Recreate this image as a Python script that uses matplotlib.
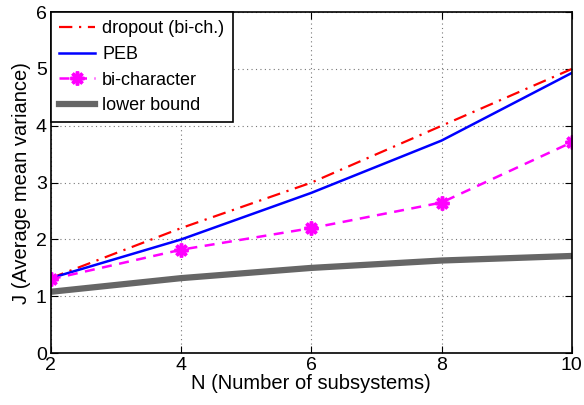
import matplotlib
matplotlib.use("Agg")
import matplotlib.pyplot as plt

N = [2, 4, 6, 8, 10]
dropout = [1.32, 2.2, 3.0, 4.0, 5.0]
peb = [1.32, 2.0, 2.82, 3.74, 4.93]
bichar = [1.30, 1.82, 2.2, 2.65, 3.71]
lower = [1.08, 1.32, 1.5, 1.63, 1.71]

plt.rcParams['font.family'] = ['Liberation Sans', 'DejaVu Sans']
fig = plt.figure(figsize=(5.84, 4.05), dpi=100)
ax = fig.add_axes([0.087, 0.128, 0.892, 0.842])

ax.plot(N, dropout, color='red', linestyle=(0, (6, 3, 1, 3)), linewidth=1.6, label='dropout (bi-ch.)')
ax.plot(N, peb, color='blue', linestyle='-', linewidth=1.8, label='PEB')
ax.plot(N, bichar, color='magenta', linestyle=(0, (4, 3)), linewidth=1.8, marker=(8, 2, 0),
        markersize=10, markeredgewidth=2.5, label='bi-character')
ax.plot(N, lower, color='#666666', linestyle='-', linewidth=4.5, label='lower bound')

ax.set_xlim(2, 10)
ax.set_ylim(0, 6)
ax.set_xticks([2, 4, 6, 8, 10])
ax.set_yticks([0, 1, 2, 3, 4, 5, 6])
ax.grid(True, linestyle=(0, (1, 3)), color='#777777', linewidth=0.8)
ax.tick_params(direction='in', labelsize=14, length=5, top=True, right=True, pad=3)
for s in ax.spines.values():
    s.set_linewidth(1.2)
ax.set_xlabel('N (Number of subsystems)', fontsize=14.5, labelpad=0)
ax.set_ylabel('J (Average mean variance)', fontsize=14.5, labelpad=3)

leg = ax.legend(loc='upper left', fontsize=13, fancybox=False, edgecolor='black',
                framealpha=1, borderaxespad=0, handlelength=2.0, labelspacing=0.48,
                handletextpad=0.4, borderpad=0.45)
leg.get_frame().set_linewidth(1.2)

fig.savefig('out.png', dpi=100)
